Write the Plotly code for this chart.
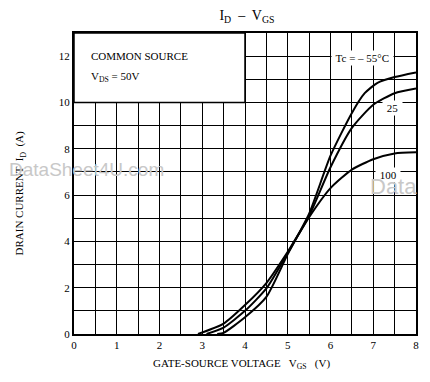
import plotly.graph_objects as go

# ---- data ----
vgs_100 = [2.9, 3.5, 4.0, 4.5, 5.0, 5.5, 6.0, 6.5, 7.0, 7.5, 8.0]
id_100 = [0.0, 0.45, 1.25, 2.2, 3.55, 5.05, 6.3, 7.1, 7.55, 7.8, 7.85]

vgs_25 = [3.1, 3.5, 4.0, 4.5, 5.0, 5.5, 6.0, 6.5, 7.0, 7.5, 8.0]
id_25 = [0.0, 0.28, 1.0, 1.97, 3.5, 5.1, 7.2, 8.9, 9.9, 10.4, 10.6]

vgs_m55 = [3.35, 3.5, 4.0, 4.5, 5.0, 5.5, 6.0, 6.5, 6.8, 7.1, 7.5, 8.0]
id_m55 = [0.0, 0.05, 0.72, 1.6, 3.45, 5.2, 7.7, 9.55, 10.4, 10.85, 11.1, 11.3]

x_ticks = [0, 1, 2, 3, 4, 5, 6, 7, 8]
y_ticks = [0, 2, 4, 6, 8, 10, 12]

series = [
    ("Tc = -55°C", vgs_m55, id_m55),
    ("25", vgs_25, id_25),
    ("100", vgs_100, id_100),
]

SERIF = "Liberation Serif, DejaVu Serif, serif"

fig = go.Figure()
for name, xs, ys in series:
    fig.add_trace(go.Scatter(
        x=xs, y=ys, mode="lines", name=name,
        line=dict(color="black", width=2, shape="spline", smoothing=0.6),
        showlegend=False, hoverinfo="skip",
    ))

fig.update_xaxes(
    range=[0, 8], tickvals=x_ticks, ticktext=[str(v) for v in x_ticks],
    showgrid=True, gridcolor="black", gridwidth=1.3,
    minor=dict(dtick=0.5, tick0=0, showgrid=True, gridcolor="black", gridwidth=1.3),
    showline=True, linecolor="black", linewidth=2, mirror=True,
    ticks="", zeroline=False, automargin=False, ticklabeloverflow="allow",
    tickfont=dict(family=SERIF, size=11, color="black"),
)
fig.update_yaxes(
    range=[0, 13], tickvals=y_ticks, ticktext=[str(v) for v in y_ticks],
    showgrid=True, gridcolor="black", gridwidth=1.3,
    minor=dict(dtick=1, tick0=0, showgrid=True, gridcolor="black", gridwidth=1.3),
    showline=True, linecolor="black", linewidth=2, mirror=True,
    ticks="", zeroline=False, automargin=False,
    tickfont=dict(family=SERIF, size=11, color="black"),
)

# condition box
fig.add_shape(type="rect", xref="x", yref="y", x0=0, x1=4, y0=10, y1=13,
              fillcolor="white", line=dict(color="black", width=1.5), layer="between")

annots = [
    dict(x=0.35, y=12, text="COMMON SOURCE", xanchor="left"),
    dict(x=0.35, y=11.1, text="V<sub>DS</sub> = 50V", xanchor="left"),
    dict(x=6.75, y=11.9, text=" Tc = – 55°C ", xanchor="center", bgcolor="white"),
    dict(x=7.45, y=9.75, text=" 25 ", xanchor="center", bgcolor="white"),
    dict(x=7.35, y=6.85, text=" 100 ", xanchor="center", bgcolor="white"),
]
for a in annots:
    fig.add_annotation(xref="x", yref="y", showarrow=False, yanchor="middle",
                       font=dict(family=SERIF, size=11, color="black"), **a)

# axis titles
fig.add_annotation(xref="paper", yref="paper", x=0.49, y=-0.1, yanchor="middle",
                   text="GATE-SOURCE VOLTAGE   V<sub>GS</sub>   (V)", showarrow=False,
                   font=dict(family=SERIF, size=11, color="black"))
fig.add_annotation(xref="paper", yref="paper", x=-0.158, y=0.47, xanchor="center",
                   textangle=-90, text="DRAIN CURRENT  I<sub>D</sub>  (A)", showarrow=False,
                   font=dict(family=SERIF, size=11, color="black"))

# scan watermark
fig.add_annotation(xref="paper", yref="paper", x=-0.195, y=0.545, xanchor="left",
                   text="DataSheet4U.com", showarrow=False,
                   font=dict(family="Liberation Sans, Arial, sans-serif", size=19, color="#c8c8c8"))
fig.add_annotation(xref="paper", yref="paper", x=0.86, y=0.49, xanchor="left",
                   text="Data", showarrow=False,
                   font=dict(family="Liberation Sans, Arial, sans-serif", size=22, color="#c8c8c8"))

# page has an 8px body margin: keep the figure inside the visible window
fig.update_layout(
    width=412, height=362,
    margin=dict(l=66, r=4, t=25, b=36),
    paper_bgcolor="white", plot_bgcolor="white",
    title=dict(text="I<sub>D</sub>  –  V<sub>GS</sub>", x=0.58, xanchor="center",
               y=0.981, yanchor="middle",
               font=dict(family=SERIF, size=14, color="black")),
)

fig.write_html("out.html")
